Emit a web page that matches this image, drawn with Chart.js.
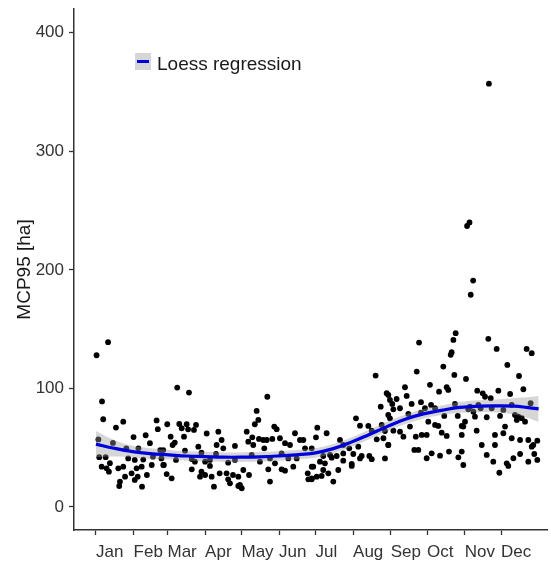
<!DOCTYPE html>
<html>
<head>
<meta charset="utf-8">
<script src="https://cdn.jsdelivr.net/npm/chart.js@4/dist/chart.umd.min.js"></script>
<style>
html,body{margin:0;padding:0;background:#fff;}
#wrap{width:551px;height:564px;}
</style>
</head>
<body>
<div id="wrap"><canvas id="c" width="551" height="564"></canvas></div>
<script>
// ---- Data ----
const monthStarts = [0, 31, 59, 90, 120, 151, 181, 212, 243, 273, 304, 334];
const monthLabels = ["Jan","Feb","Mar","Apr","May","Jun","Jul","Aug","Sep","Oct","Nov","Dec"];
const yTicks = [0, 100, 200, 300, 400];

// day of year for each observation
const obsDay = [
0.5,10,5,6,16.5,22.5,2,14,31,41,50,51,35,44.5,2.7,8,25,26.6,32,39,47,53,4.7,11.5,10.7,18.4,22.5,24,29.4,33.5,37.7,34.4,19.8,19.2,32,38,42,46,55.5,8.8,
67,76.7,58.8,68.7,74.8,82.5,70.7,76,80.8,91.3,100.9,61.6,72.6,103.6,65,63.2,84.4,105,99.5,114.6,55.5,73.4,87,99,54,66,79,90,94,109,114.6,56,81.6,94,79,87,102,107.7,113,58.3,62.4,85.8,90,95.4,109,110.5,97.3,117.4,
141.3,132.5,133.9,131,124.3,128.9,125.6,147,149,134.4,138,140.8,145.4,151.7,155.9,160,164.1,168.2,171,138.8,128.4,135.2,143.5,153.1,158.6,165.5,172.4,121.5,126.2,142.1,153.1,155.9,162.7,177.9,117.4,118.7,120.2,143.5,174.6,175.1,177.9,129.7,147.6,
230.6,239.7,234.8,241,214.4,217.7,224.6,235.6,182.5,190.2,181.4,201.2,227.4,231.5,237,241,177.9,203.9,208.9,216.3,193,198.5,203.9,212.2,219.1,225.4,227.4,238.3,187.4,184.7,188.8,194.4,203.9,210.9,217.7,179.2,187.4,186.1,191.6,199.8,210.9,182,195.7,177.9,
296.6,294.7,293.3,292.5,266.4,286.4,264.5,295.5,275.4,254.8,282.9,289.2,290.5,256.2,241.1,242.4,247.9,244.3,250.7,260.3,268,271.3,276.3,279.6,296,245.2,257.6,268,287.2,298.3,242.4,274,279.6,282.3,258.9,238.3,245.2,250.7,253.5,263.7,268.6,272.7,285.1,289.2,301.6,301.6,241.1,262.5,265.8,276.8,283.7,291.1,272.7,298.8,302.9,
324,308,306,311,309,323.5,330.4,355.1,359.3,339.2,305.1,348.8,352.4,314.4,318.9,320.8,331.8,341.5,325.5,308.4,315.3,317.2,307,326.3,335.9,342.8,358.4,311.2,312.5,322.2,333.2,345.5,348.3,351.1,347,353.8,304.3,302.9,337.3,313.9,335.9,329,342.8,349.7,356.5,360.6,363.9,318.1,329,359.3,301.6,322.2,349.7,344.2,361.4,363.9,327.6,338.7,340,356.5,332.6
];
// MCP95 [ha] for each observation
const obsMCP = [
128,139,89,74,67,72,57,54,59,60.5,73,65.6,49.5,53.8,42,42,49.5,41,39.7,40,42.4,48,34,37,29.8,32.6,34,25.6,28.4,32.6,34,25.6,21.4,17.7,22.8,17.1,27,35.4,35.4,32.6,
100.7,96.5,69.8,70,69.8,69.2,66.4,65.5,65,62,63.5,59.3,59.3,56.5,54.3,52.3,50.9,49.5,52.3,51.5,48,47.5,45.8,44.7,41,39.7,40.5,38.2,39.7,37.4,39.7,35.4,38.2,34.6,31.8,29.8,28.4,28.4,27,27.8,24.2,25.6,27,25.6,23.3,20,17.1,17.7,
93,81,73.4,69.8,63.5,58.8,55.1,67.8,65.6,57.4,56.5,56.5,57.4,58,53.8,52.3,62.2,56.5,56.5,49.5,43.9,38.2,41,45.2,41,41,49.5,31.2,27,31.8,31.8,30.6,34,34,25.6,18.6,15.8,21.4,28.4,23.3,23.3,52.3,36.8,
110.8,96,84.6,77.6,74.8,68.6,68.4,69.2,66.9,62.2,58.8,56.5,64.4,57.1,58,52.3,49.5,52.3,49.5,50.9,43.9,43,45.2,44.7,43,43,40.3,41,43,38.2,36.8,41.6,39.1,36.3,41,34,31.2,26.2,28.4,31.2,34.6,25.6,21.4,24.2,
146.6,140.9,130.5,128.3,138.7,118.4,114.2,111.4,103,101,97.3,101,98.7,93.7,94.5,90.3,91.1,86.9,83.3,86.9,88.4,83.3,86.1,83.3,86.9,82.4,78.5,79.6,76.8,76.8,74.8,72,69.2,68.4,67.8,64.1,64.4,63.5,59.3,59.3,60.8,60.8,62.7,59.9,68.4,60.8,52.3,48.1,48.1,45.3,43.3,46.7,41.1,41.9,35.4,
357,240,237,191,179,141.8,133.3,133.3,129.7,119.8,108,110.5,99.3,98.1,95.9,93,98.1,95.3,91.7,84.6,86.1,83.3,82.4,83.3,81.9,86.1,87.5,80.4,76.2,75.7,76.8,77.6,76.2,74.9,73.4,72,72,67.8,67.8,64.4,62.2,60.8,58,56.5,56.5,52.3,55.9,52.3,52.3,50.9,46.7,43.9,44.7,41.1,44.7,39.7,38.2,36.8,34.6,38.2,28.9
];

// Loess fit and its confidence band
const loessDay   = [0,15,30,45,60,75,90,105,120,135,150,165,180,195,210,225,240,255,270,285,300,315,330,345,355,365];
const loessFit   = [53,49.5,46.7,45,44,43,42.5,42,42,42.3,43,44,45.5,49,54.5,61,67.8,74,78.5,81.5,84,85,85.2,85,84,82.7];
const loessUpper = [64,56.5,51.7,49.5,48,47,46.5,46,46,46.3,47,48,49.5,53,58.5,65,71.8,78,82.5,85.5,88.5,90,90.7,92,92.5,93.7];
const loessLower = [42,42.5,41.7,40.5,40,39,38.5,38,38,38.3,39,40,41.5,45,50.5,57,63.8,70,74.5,77.5,79.5,80,79.7,78,75.5,71.7];

const legendLabel = "Loess regression";
const yTitle = "MCP95 [ha]";

// ---- Build ----
const pts = obsDay.map((d, i) => ({x: d, y: obsMCP[i]}));
const toXY = arr => loessDay.map((d, i) => ({x: d, y: arr[i]}));

const bandColor = 'rgba(153,153,153,0.4)';
const lineColor = 'rgb(0,0,220)';
const axisColor = '#333333';
const FONT = '"Liberation Sans", Arial, sans-serif';

const legendPlugin = {
  id: 'insideLegend',
  afterDraw(chart) {
    const ctx = chart.ctx;
    ctx.save();
    ctx.fillStyle = bandColor;
    ctx.fillRect(135, 53, 16, 17);
    ctx.strokeStyle = lineColor;
    ctx.lineWidth = 3;
    ctx.beginPath();
    ctx.moveTo(137, 61.5);
    ctx.lineTo(149, 61.5);
    ctx.stroke();
    ctx.fillStyle = '#1a1a1a';
    ctx.font = '19px ' + FONT;
    ctx.textBaseline = 'alphabetic';
    ctx.textAlign = 'left';
    ctx.fillText(legendLabel, 157, 70);
    ctx.restore();
  }
};

new Chart(document.getElementById('c'), {
  type: 'scatter',
  data: {
    datasets: [
      {
        label: legendLabel, data: toXY(loessFit), showLine: true,
        borderColor: lineColor, borderWidth: 3.2, pointRadius: 0, tension: 0.4,
        fill: false, order: 0
      },
      {
        label: 'upper', data: toXY(loessUpper), showLine: true,
        borderWidth: 0, borderColor: 'rgba(0,0,0,0)', pointRadius: 0, tension: 0.4,
        backgroundColor: bandColor, fill: '+1', order: 1
      },
      {
        label: 'lower', data: toXY(loessLower), showLine: true,
        borderWidth: 0, borderColor: 'rgba(0,0,0,0)', pointRadius: 0, tension: 0.4,
        fill: false, order: 1
      },
      {
        label: 'obs', data: pts, showLine: false,
        pointRadius: 2.9, pointBackgroundColor: '#000', pointBorderWidth: 0,
        order: 2
      }
    ]
  },
  options: {
    responsive: false,
    animation: false,
    devicePixelRatio: 1,
    layout: { padding: { top: 9, right: 4, left: 0, bottom: 0 } },
    plugins: {
      legend: { display: false },
      tooltip: { enabled: false }
    },
    scales: {
      x: {
        type: 'linear',
        min: -18.1, max: 371.9,
        afterBuildTicks: s => { s.ticks = monthStarts.map(v => ({value: v})); },
        afterFit: s => { s.height = 34; s.paddingLeft = 0; s.paddingRight = 0; },
        ticks: {
          callback: (v, i) => monthLabels[i],
          align: 'start', autoSkip: false, maxRotation: 0,
          font: { size: 17, family: FONT }, color: axisColor, padding: 7
        },
        grid: { drawOnChartArea: false, tickLength: 5, color: axisColor, tickWidth: 1.3 },
        border: { color: axisColor, width: 1.5 }
      },
      y: {
        type: 'linear',
        min: -19.4, max: 420,
        afterBuildTicks: s => { s.ticks = yTicks.map(v => ({value: v})); },
        afterFit: s => { s.width = 74; s.paddingTop = 0; s.paddingBottom = 0; },
        ticks: {
          font: { size: 17, family: FONT }, color: axisColor, padding: 5
        },
        title: {
          display: true, text: yTitle, color: '#1a1a1a',
          font: { size: 19, family: FONT }, padding: { top: 13, bottom: 0 }
        },
        grid: { drawOnChartArea: false, tickLength: 5, color: axisColor, tickWidth: 1.3 },
        border: { color: axisColor, width: 1.5 }
      }
    }
  },
  plugins: [legendPlugin]
});
</script>
</body>
</html>
